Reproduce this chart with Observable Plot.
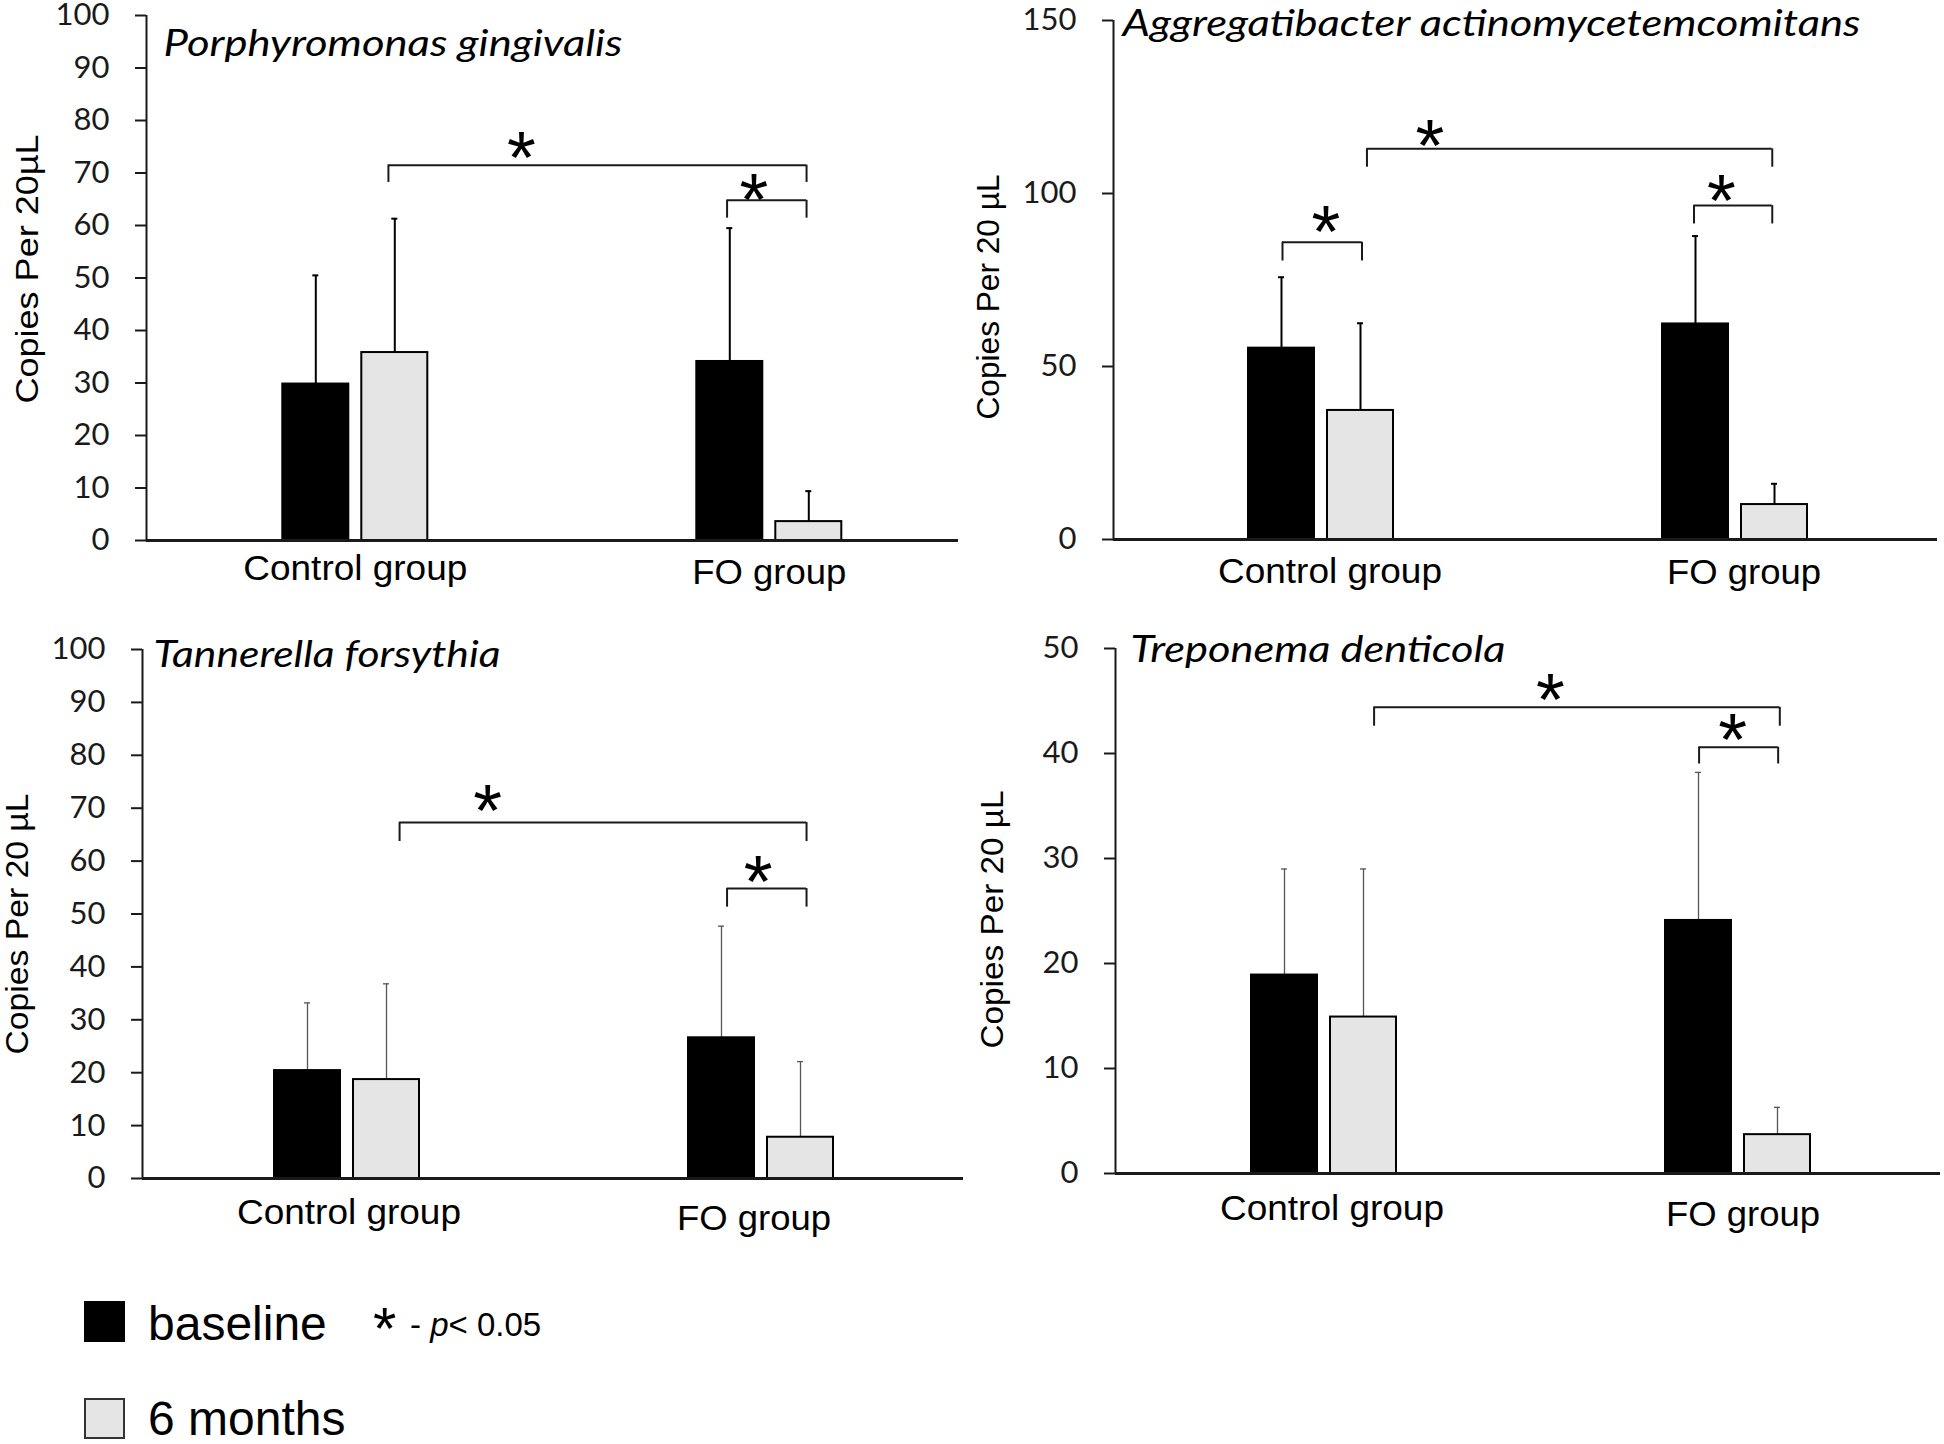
<!DOCTYPE html>
<html>
<head>
<meta charset="utf-8">
<script src="https://cdn.jsdelivr.net/npm/d3@7"></script>
<script src="https://cdn.jsdelivr.net/npm/@observablehq/plot@0.6"></script>
<style>
  html, body { margin: 0; padding: 0; background: #fff; }
  #wrap { position: relative; width: 1944px; height: 1444px; overflow: hidden; background: #fff; }
  .panel { position: absolute; }
</style>
</head>
<body>
<div id="wrap"></div>
<script>
// ---------------- data ----------------
const groups = ["Control group", "FO group"];
const series = ["baseline", "6 months"];
const species = ["Porphyromonas gingivalis", "Aggregatibacter actinomycetemcomitans", "Tannerella forsythia", "Treponema denticola"];
const yLabels = ["Copies Per 20µL", "Copies Per 20 µL", "Copies Per 20 µL", "Copies Per 20 µL"];
const yMax = [100, 150, 100, 50];
const yStep = [10, 50, 10, 10];

// order: Control baseline, Control 6 months, FO baseline, FO 6 months
const pgMean = [29.8, 35.8, 34.1, 3.6];
const pgSD   = [20.7, 25.5, 25.4, 5.8];
const aaMean = [55.3, 37.3, 62.3, 10.1];
const aaSD   = [20.5, 25.2, 25.4, 6.0];
const tfMean = [20.4, 18.7, 26.6, 7.8];
const tfSD   = [12.8, 18.1, 21.1, 14.3];
const tdMean = [18.9, 14.9, 24.1, 3.7];
const tdSD   = [10.1, 14.1, 14.1, 2.6];

// significance brackets (x in group units: Control group = 0, FO group = 1; y in copies)
const pgBrackets = [
  {x1: 0.080, x2: 1.090, y: 71.5, end: 68.2, starX: 0.401, starY: 74.9},
  {x1: 0.898, x2: 1.090, y: 64.8, end: 61.4, starX: 0.963, starY: 66.8}
];
const aaBrackets = [
  {x1: -0.093, x2: 0.099, y: 85.9, end: 80.5, starX: 0.012, starY: 91.8},
  {x1: 0.111, x2: 1.090, y: 112.9, end: 107.6, starX: 0.263, starY: 116.7},
  {x1: 0.901, x2: 1.090, y: 96.5, end: 91.2, starX: 0.967, starY: 101}
];
const tfBrackets = [
  {x1: 0.127, x2: 1.110, y: 67.3, end: 63.7, starX: 0.340, starY: 71.4},
  {x1: 0.918, x2: 1.110, y: 54.8, end: 51.3, starX: 0.993, starY: 58}
];
const tdBrackets = [
  {x1: 0.121, x2: 1.101, y: 44.4, end: 42.6, starX: 0.547, starY: 46.1},
  {x1: 0.906, x2: 1.097, y: 40.6, end: 39.0, starX: 0.987, starY: 42.3}
];

const means = [pgMean, aaMean, tfMean, tdMean];
const sds = [pgSD, aaSD, tfSD, tdSD];
const brackets = [pgBrackets, aaBrackets, tfBrackets, tdBrackets];

// ---------------- layout ----------------
const GROUP_PX = 414;              // pixels between the two group centres
const off = 39.5 / GROUP_PX;       // half distance between paired bars
const hw = 33 / GROUP_PX;          // half bar width
const cap = 3 / GROUP_PX;          // half error cap width
const STAR = 74;                   // asterisk font size

const layout = [
  {left: 0,   top: 0,   w: 972, h: 620, ml: 146, mr: 14, mt: 15, mb: 80, cx: 354.8, tDx: 17, tBase: 55,   tSize: 37, tLen: 459, yx: 27, yy: 268.5, yLen: 269, errW: 2,   errC: "#000", labDx: [0, 0],   labDy: [39, 43]},
  {left: 972, top: 0,   w: 972, h: 620, ml: 141, mr: 7,  mt: 20, mb: 81, cx: 348.5, tDx: 9,  tBase: 35,   tSize: 36, tLen: 738, yx: 16, yy: 296.5, yLen: 245, errW: 2,   errC: "#000", labDx: [9, 9],   labDy: [43, 44]},
  {left: 0,   top: 620, w: 972, h: 640, ml: 142, mr: 9,  mt: 29, mb: 82, cx: 346.5, tDx: 11, tBase: 46.7, tSize: 37, tLen: 347, yx: 17, yy: 303.5, yLen: 261, errW: 1.3, errC: "#555", labDx: [2, -7],  labDy: [45, 51]},
  {left: 972, top: 620, w: 972, h: 640, ml: 143, mr: 4,  mt: 28, mb: 87, cx: 351.5, tDx: 15, tBase: 41.7, tSize: 37, tLen: 375, yx: 20, yy: 299,   yLen: 258, errW: 1.3, errC: "#555", labDx: [8, 5],   labDy: [46, 52]}
];
const labLen = [224, 154];

function fit(svg, str, len) {
  d3.select(svg).selectAll("text")
    .filter(function () { return this.textContent === str; })
    .attr("textLength", len)
    .attr("lengthAdjust", "spacingAndGlyphs");
}

const wrap = document.getElementById("wrap");

layout.forEach((L, k) => {
  const bars = means[k].map((m, i) => ({
    group: groups[i >> 1],
    series: series[i & 1],
    mean: m,
    top: m + sds[k][i],
    xc: (i >> 1) + ((i & 1) ? off : -off)
  }));
  const br = brackets[k];
  const ends = br.flatMap(b => [{x: b.x1, y1: b.end, y2: b.y}, {x: b.x2, y1: b.end, y2: b.y}]);
  const xMin = -(L.cx - L.ml) / GROUP_PX;
  const xMax = (L.w - L.mr - L.cx) / GROUP_PX;
  const frameMid = L.mt + (L.h - L.mt - L.mb) / 2;

  const groupLabels = groups.map((g, i) =>
    Plot.text([g], {x: () => i, y: () => 0, text: d => d, fontFamily: "Liberation Sans", fontSize: 35, lineAnchor: "bottom", dx: L.labDx[i], dy: L.labDy[i], fill: "#000"})
  );

  const svg = Plot.plot({
    width: L.w,
    height: L.h,
    marginLeft: L.ml,
    marginRight: L.mr,
    marginTop: L.mt,
    marginBottom: L.mb,
    style: {fontFamily: "Lato", fontSize: "31px", color: "#1a1a1a", background: "transparent", overflow: "visible"},
    x: {type: "linear", domain: [xMin, xMax], label: null, axis: null},
    y: {domain: [0, yMax[k]], label: null},
    color: {domain: series, range: ["#000000", "#e5e5e5"]},
    marks: [
      Plot.axisY({ticks: d3.range(0, yMax[k] + 0.001, yStep[k]), tickSize: 11, tickPadding: 26, fontSize: 31, fontFamily: "Lato", strokeWidth: 2, label: null}),
      Plot.ruleX([xMin], {y1: 0, y2: yMax[k], stroke: "#1a1a1a", strokeWidth: 2}),
      // error bars
      Plot.ruleX(bars, {x: "xc", y1: "mean", y2: "top", stroke: L.errC, strokeWidth: L.errW}),
      Plot.ruleY(bars, {y: "top", x1: d => d.xc - cap, x2: d => d.xc + cap, stroke: L.errC, strokeWidth: L.errW}),
      // bars
      Plot.rect(bars, {x1: d => d.xc - hw, x2: d => d.xc + hw, y1: 0, y2: "mean", fill: "series", stroke: "#000", strokeWidth: 2}),
      // x axis line
      Plot.ruleY([0], {stroke: "#1a1a1a", strokeWidth: 3}),
      // brackets
      Plot.ruleY(br, {y: "y", x1: "x1", x2: "x2", stroke: "#1a1a1a", strokeWidth: 2}),
      Plot.ruleX(ends, {x: "x", y1: "y1", y2: "y2", stroke: "#1a1a1a", strokeWidth: 2}),
      Plot.text(br, {x: "starX", y: "starY", text: () => "*", fontFamily: "Liberation Sans", fontSize: STAR, lineAnchor: "bottom", dy: 0.48 * STAR, fill: "#000"}),
      // group labels
      ...groupLabels,
      // species title
      Plot.text([species[k]], {frameAnchor: "top-left", text: d => d, textAnchor: "start", lineAnchor: "bottom", dx: L.tDx, dy: L.tBase - L.mt, fontFamily: "Lato", fontStyle: "italic", fontSize: L.tSize, fill: "#000"}),
      // y axis label
      Plot.text([yLabels[k]], {frameAnchor: "left", text: d => d, textAnchor: "middle", lineAnchor: "middle", rotate: -90, dx: L.yx - L.ml, dy: L.yy - frameMid, fontFamily: "Liberation Sans", fontSize: 32, fill: "#000"})
    ]
  });
  fit(svg, species[k], L.tLen);
  fit(svg, yLabels[k], L.yLen);
  fit(svg, groups[0], labLen[0]);
  fit(svg, groups[1], labLen[1]);
  svg.classList.add("panel");
  svg.style.left = L.left + "px";
  svg.style.top = L.top + "px";
  wrap.appendChild(svg);
});

// ---------------- legend ----------------
const ns = "http://www.w3.org/2000/svg";
const leg = document.createElementNS(ns, "svg");
leg.setAttribute("width", 1944);
leg.setAttribute("height", 184);
leg.setAttribute("class", "panel");
leg.style.left = "0px";
leg.style.top = "1260px";
leg.innerHTML = `
  <rect x="84" y="41" width="41" height="41" fill="#000"/>
  <text x="148" y="80" font-family="Liberation Sans" font-size="48" fill="#000">${series[0]}</text>
  <text x="373" y="89" font-family="Liberation Sans" font-size="60" fill="#000">*</text>
  <text x="410" y="76" font-family="Liberation Sans" font-size="33" fill="#000">- <tspan font-style="italic">p</tspan>&lt; 0.05</text>
  <rect x="85" y="139" width="39" height="39" fill="#e5e5e5" stroke="#333" stroke-width="2"/>
  <text x="148" y="175" font-family="Liberation Sans" font-size="48" fill="#000">${series[1]}</text>
`;
wrap.appendChild(leg);
</script>
</body>
</html>
